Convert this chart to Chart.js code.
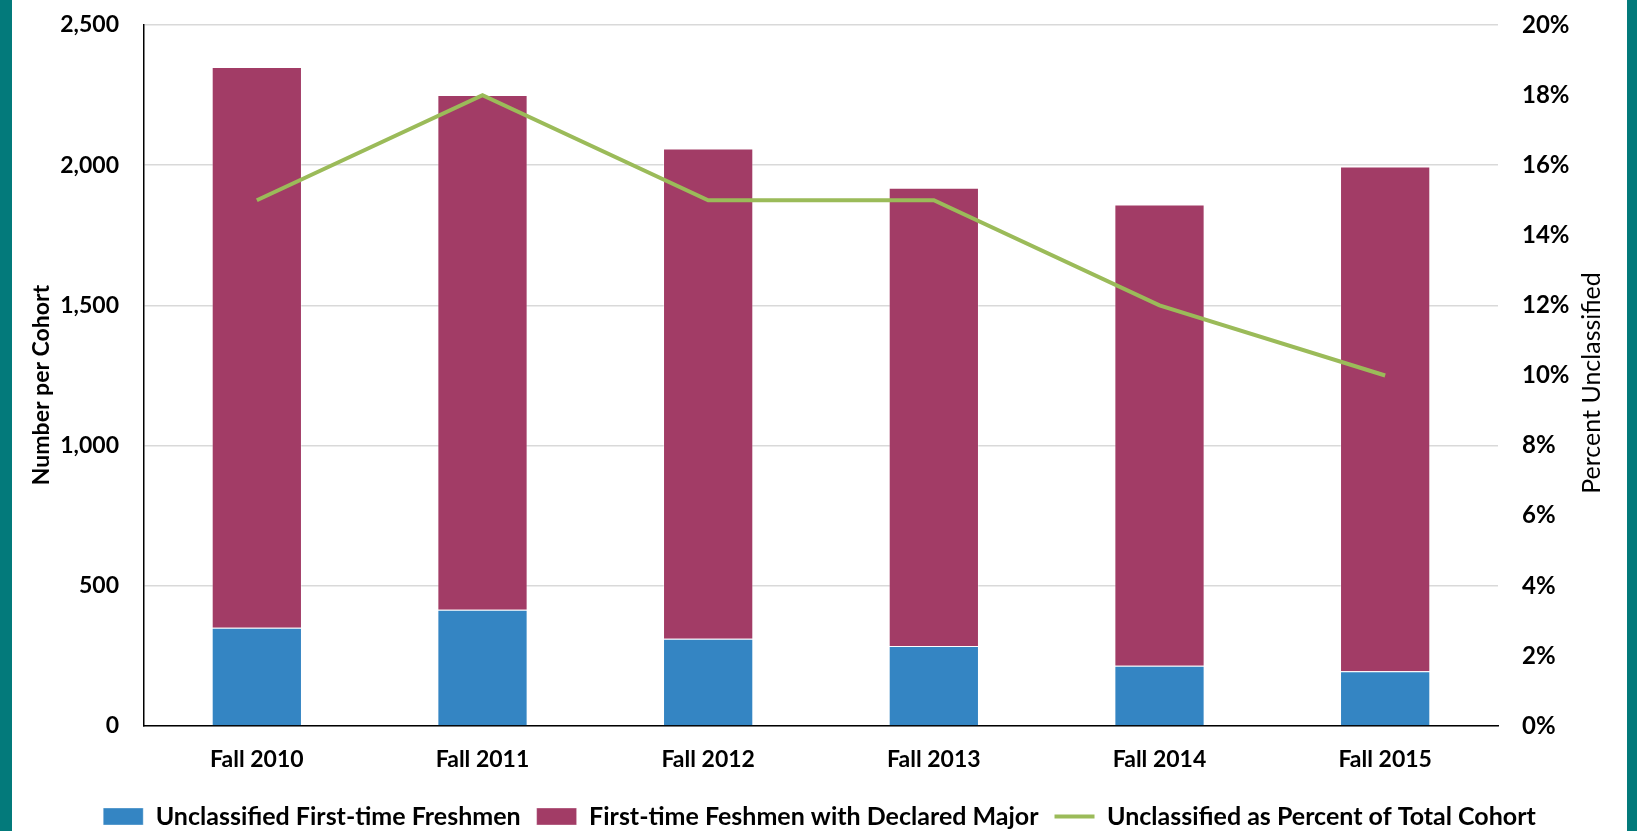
<!DOCTYPE html>
<html>
<head>
<meta charset="utf-8">
<script src="https://cdn.jsdelivr.net/npm/chart.js@4/dist/chart.umd.min.js"></script>
<style>
  html, body { margin: 0; padding: 0; background: #ffffff; }
  #wrap { position: relative; width: 1637px; height: 831px; }
</style>
</head>
<body>
<div id="wrap"><canvas id="c" width="1637" height="831"></canvas></div>
<script>
const categories = ['Fall 2010', 'Fall 2011', 'Fall 2012', 'Fall 2013', 'Fall 2014', 'Fall 2015'];
const unclassified = [350, 415, 311, 285, 215, 195];
const declaredMajor = [2000, 1835, 1749, 1635, 1645, 1800];
const percentUnclassified = [15, 18, 15, 15, 12, 10];
const seriesNames = ['Unclassified First-time Freshmen', 'First-time Feshmen with Declared Major', 'Unclassified as Percent of Total Cohort'];
const leftTitle = 'Number per Cohort';
const rightTitle = 'Percent Unclassified';

const FONT = 'Lato';
const TEAL = '#037A7B';

function drawVerticalText(ctx, text, x, y, font) {
  ctx.save();
  ctx.fillStyle = '#000';
  ctx.font = font;
  ctx.textAlign = 'center';
  ctx.textBaseline = 'middle';
  ctx.translate(x, y);
  ctx.rotate(-Math.PI / 2);
  ctx.fillText(text, 0, 0);
  ctx.restore();
}

const frame = {
  id: 'frame',
  beforeDraw(chart) {
    const ctx = chart.ctx;
    ctx.save();
    ctx.fillStyle = '#ffffff';
    ctx.fillRect(0, 0, chart.width, chart.height);
    ctx.fillStyle = TEAL;
    ctx.fillRect(0, 0, 12, chart.height);
    ctx.fillRect(chart.width - 10, 0, 10, chart.height);
    ctx.restore();
  },
  afterDraw(chart) {
    const ctx = chart.ctx;
    drawVerticalText(ctx, leftTitle, 42, 385, 'bold 23px ' + FONT);
    drawVerticalText(ctx, rightTitle, 1592, 383, '25px ' + FONT);
  }
};

function noVPad(s) { s.paddingTop = 0; s.paddingBottom = 0; }

new Chart(document.getElementById('c'), {
  data: {
    labels: categories,
    datasets: [
      { type: 'bar', label: seriesNames[0], data: unclassified, backgroundColor: '#3485C3',
        borderColor: 'rgba(255,255,255,0.35)', borderWidth: 1, yAxisID: 'y', stack: 's', order: 1, pointStyle: 'rect',
        barPercentage: 0.4, categoryPercentage: 1.0 },
      { type: 'bar', label: seriesNames[1], data: declaredMajor, backgroundColor: '#A23C66',
        borderColor: 'rgba(255,255,255,0.35)', borderWidth: 1, yAxisID: 'y', stack: 's', order: 1, pointStyle: 'rect',
        barPercentage: 0.4, categoryPercentage: 1.0 },
      { type: 'line', label: seriesNames[2], data: percentUnclassified, borderColor: '#9BBB59', backgroundColor: '#9BBB59',
        borderWidth: 4, pointRadius: 0, pointHoverRadius: 0, tension: 0, yAxisID: 'y1', order: 0, pointStyle: 'line' }
    ]
  },
  options: {
    responsive: false,
    animation: false,
    devicePixelRatio: 1,
    layout: { padding: { left: 12, right: 10, top: 25, bottom: -8 } },
    plugins: {
      tooltip: { enabled: false },
      legend: {
        position: 'bottom',
        labels: {
          usePointStyle: true,
          pointStyleWidth: 40,
          boxHeight: 17,
          padding: 16,
          color: '#000',
          font: { family: FONT, size: 25, weight: 'bold' },
          sort: (a, b) => a.datasetIndex - b.datasetIndex
        }
      }
    },
    scales: {
      x: {
        stacked: true,
        grid: { display: false, drawTicks: false },
        border: { display: true, color: '#000', width: 1.5 },
        ticks: { color: '#000', padding: 20, font: { family: FONT, size: 23, weight: 'bold' } },
        afterFit(s) { s.height = 62; }
      },
      y: {
        stacked: true,
        position: 'left',
        min: 0, max: 2500,
        ticks: { stepSize: 500, color: '#000', padding: 25, font: { family: FONT, size: 23, weight: 'bold' },
          callback: v => v.toLocaleString('en-US') },
        grid: { color: '#D9D9D9', lineWidth: 1.5, drawTicks: false },
        border: { display: true, color: '#000', width: 1.5 },
        title: { display: false, text: leftTitle },
        afterFit(s) { s.width = 132; noVPad(s); }
      },
      y1: {
        position: 'right',
        min: 0, max: 20,
        ticks: { stepSize: 2, color: '#000', padding: 24, font: { family: FONT, size: 24, weight: 'bold' },
          callback: v => v + '%' },
        grid: { display: false, drawTicks: false },
        border: { display: false },
        title: { display: false, text: rightTitle },
        afterFit(s) { s.width = 129; noVPad(s); }
      }
    }
  },
  plugins: [frame]
});
</script>
</body>
</html>
